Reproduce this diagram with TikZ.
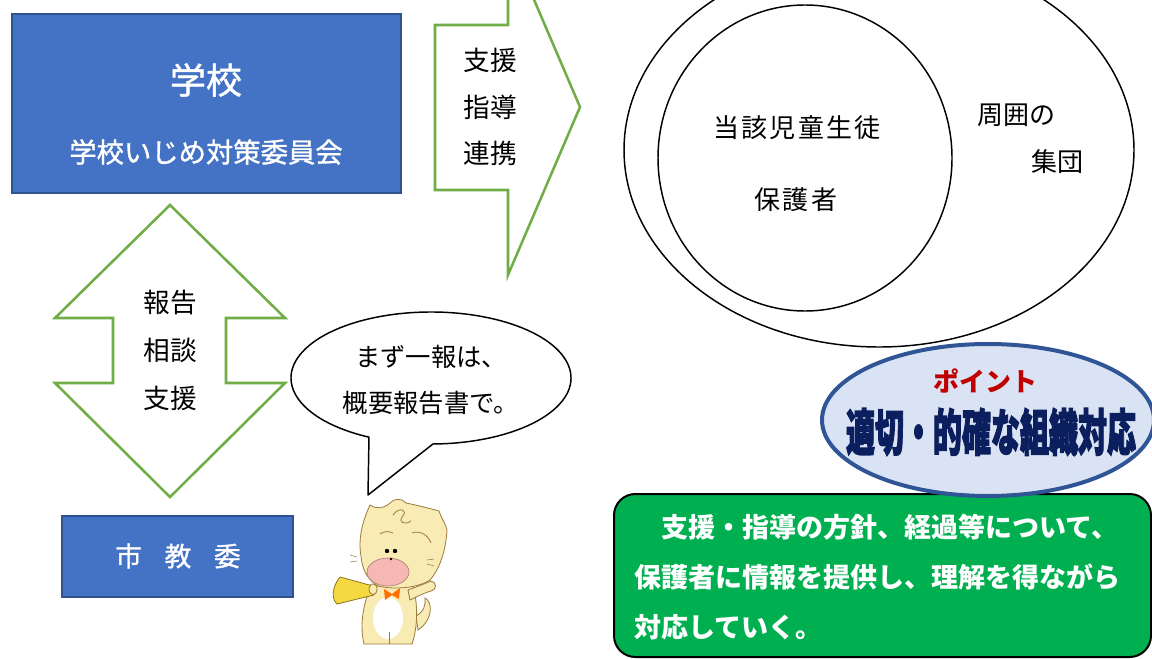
\documentclass[tikz,border=0pt]{standalone}
\usepackage{fontspec}
\setmainfont{Noto Sans CJK JP}
\newfontfamily\jpmed{Noto Sans CJK JP}[FakeBold=1.2]
\newfontfamily\jpheavy{Noto Sans CJK JP}[BoldFeatures={FakeBold=3}]
\definecolor{boxblue}{HTML}{4472C4}
\definecolor{boxedge}{HTML}{2F528F}
\definecolor{arrowgreen}{HTML}{70AD47}
\definecolor{pointfill}{HTML}{DAE3F3}
\definecolor{pointedge}{HTML}{2F5597}
\definecolor{pointred}{HTML}{C00000}
\definecolor{navy}{HTML}{0B1F5E}
\definecolor{notegreen}{HTML}{00B050}
\definecolor{catbody}{HTML}{F8EBB4}
\definecolor{catline}{HTML}{9C7A3C}
\definecolor{catpink}{HTML}{F5B8B2}
\definecolor{megaphone}{HTML}{F6D840}
\tikzset{
  bluebox/.style={fill=boxblue, draw=boxedge, line width=1.5pt},
  blocklabel/.style={text=white, inner sep=0pt, align=center},
  greenarrow/.style={draw=arrowgreen, line width=1.9pt, fill=white, line join=miter},
  plainlabel/.style={text=black, inner sep=0pt, align=center},
  ring/.style={draw=black, line width=1.1pt},
  catfill/.style={fill=catbody, draw=catline, line width=0.6pt},
  catstroke/.style={draw=catline, line width=0.6pt},
}
\begin{document}
\begin{tikzpicture}[x=0.75pt,y=-0.75pt]
\useasboundingbox (0,0) rectangle (1152,659);
\fill[white] (0,0) rectangle (1152,659);
\begin{scope}
\clip (0,0) rectangle (1152,659);

% school box
\path[bluebox] (12,14) rectangle (401,193);
\node[blocklabel, font=\fontsize{27}{30}\selectfont\jpmed] (school) at (206,80) {学校};
\node[blocklabel, font=\fontsize{20.5}{24}\selectfont\jpmed] (committee) at (206,152) {学校いじめ対策委員会};

% arrow towards the student circles
\draw[greenarrow] (435,25) -- (508,25) -- (508,-61) -- (580,107) -- (508,275)
  -- (508,190) -- (435,190) -- cycle;
\node[plainlabel, font=\fontsize{20}{35}\selectfont] (support) at (490,107) {支援\\指導\\連携};

% double arrow between school and city board
\draw[greenarrow] (170,205) -- (285,318) -- (226,318) -- (226,383) -- (285,383)
  -- (170,497) -- (55,383) -- (113,383) -- (113,318) -- (55,318) -- cycle;
\node[plainlabel, font=\fontsize{20}{36}\selectfont] (report) at (170,350) {報告\\相談\\支援};

% city board of education
\path[bluebox] (62,516) rectangle (293,597);
\node[blocklabel, font=\fontsize{20}{24}\selectfont\jpmed] (board) at (178,556)
  {市\hspace{17pt}教\hspace{17pt}委};

% surrounding group and the student
\draw[ring] (879,150) ellipse (255 and 197);
\draw[ring] (805,158) ellipse (147 and 153);
\node[plainlabel, font=\fontsize{19.5}{24}\selectfont\addfontfeature{LetterSpace=8}] (student) at (797,128) {当該児童生徒};
\node[plainlabel, font=\fontsize{19.5}{24}\selectfont\addfontfeature{LetterSpace=8}] (guardian) at (796,200) {保護者};
\node[plainlabel, font=\fontsize{19.5}{24}\selectfont] (around) at (1016,115) {周囲の};
\node[plainlabel, font=\fontsize{19.5}{24}\selectfont] (group) at (1057,162) {集団};

% speech bubble
\draw[fill=white, draw=black, line width=1.1pt, line join=round]
  (431,378) ++(116.3:140 and 66)
  arc[start angle=116.3, end angle=449.2, x radius=140, y radius=66]
  -- (368,495) -- cycle;
\node[plainlabel, font=\fontsize{19}{34.5}\selectfont] (bubble) at (431,380)
  {まず一報は、\\概要報告書で。};

% mascot cat with a megaphone
% tail
\draw[catfill] (416,616) .. controls (424,612) and (426,604) .. (425,598)
  .. controls (433,602) and (433,620) .. (418,630) -- cycle;
% body
\draw[catfill] (371,586) .. controls (362,606) and (360,628) .. (364,644)
  -- (412,644) .. controls (418,626) and (418,604) .. (413,586) -- cycle;
\fill[white] (388,618) ellipse (15 and 21);
\draw[catstroke] (389,632) -- (389,644);
% arm pointing right
\draw[catfill] (408,590) .. controls (416,587) and (424,584) .. (431,581)
  .. controls (437,582) and (437,590) .. (431,591)
  .. controls (424,593) and (416,597) .. (410,600) -- cycle;
% head
\draw[catfill] (361,556) .. controls (358,540) and (362,522) .. (370,505)
  .. controls (378,510) and (384,508) .. (390,503)
  .. controls (394,498) and (402,498) .. (406,503)
  .. controls (416,505) and (428,508) .. (439,511)
  .. controls (441,518) and (446,524) .. (447,530)
  .. controls (446,546) and (442,566) .. (430,580)
  .. controls (418,588) and (394,590) .. (378,586)
  .. controls (368,580) and (362,570) .. (361,556) -- cycle;
% tuft and brow lines
\draw[catstroke] (393,515) .. controls (399,506) and (409,510) .. (402,517)
  .. controls (398,521) and (404,526) .. (411,521);
\draw[catstroke] (412,533) .. controls (420,530) and (428,535) .. (431,543);
\draw[catstroke] (380,534) .. controls (384,531) and (389,531) .. (393,533);
% whiskers
\draw[catstroke, line width=0.4pt] (357,557) -- (350,555) (357,561) -- (350,562)
  (427,560) -- (434,559) (427,564) -- (434,566);
% muzzle and eyes
\draw[fill=catpink, draw=catpink!70!black, line width=0.5pt] (388,572) ellipse (21 and 14);
\fill[black] (387,551) circle (2.2);
\fill[black] (395,551) circle (2.2);
\fill[black] (391,559) circle (1.3);
% bow
\fill[orange!85!red] (384,589) -- (392,594) -- (400,588) -- (399,599) -- (392,595) -- (385,600) -- cycle;
% megaphone
\draw[fill=megaphone, draw=megaphone!55!black, line width=0.6pt]
  (373,586) -- (340,577) .. controls (331,588) and (332,600) .. (337,604) -- (374,595) -- cycle;
\draw[catfill] (371,584) .. controls (376,583) and (379,588) .. (376,593) .. controls (373,596) and (369,594) .. (369,589) -- cycle;

% note box
\draw[fill=notegreen, draw=black, line width=1.5pt, rounded corners=16pt]
  (614,494) rectangle (1151,657);
\node[text=white, inner sep=0pt, align=left, anchor=west,
  font=\fontsize{20.25}{37.5}\selectfont\bfseries] (note) at (634,577)
  {　支援・指導の方針、経過等について、\\保護者に情報を提供し、理解を得ながら\\対応していく。};

% key point
\draw[fill=pointfill, draw=pointedge, line width=3pt] (988,420) ellipse (166 and 76);
\node[text=pointred, inner sep=0pt, font=\fontsize{19.5}{24}\selectfont\bfseries] (pointtitle) at (985,381) {ポイント};
\node[text=navy, inner sep=0pt, font=\fontsize{37.5}{40}\selectfont\jpheavy\bfseries] (pointtext) at (991,432)
  {\scalebox{0.58}[1]{適切・的確な組織対応}};
\end{scope}
\end{tikzpicture}
\end{document}
